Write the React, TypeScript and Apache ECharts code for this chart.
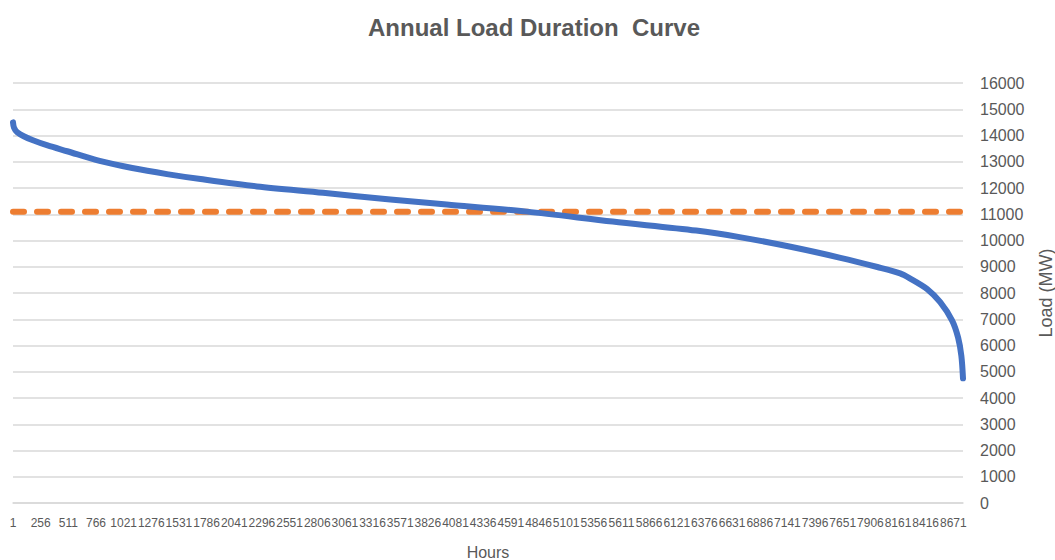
import React, { useEffect, useRef } from "react";
import * as echarts from "echarts";

const titleText = "Annual Load Duration  Curve";
const xAxisName = "Hours";
const yAxisName = "Load (MW)";

// Hour of the year (sorted by load) and load in MW
const hours = [1, 10, 40, 100, 185, 320, 500, 800, 1100, 1420, 1730, 2250, 2860, 3480, 4000, 4740, 5530, 6300, 6700, 7170, 7630, 7970, 8180, 8270, 8430, 8550, 8660, 8715, 8745, 8760];
const loads = [14500, 14300, 14120, 13970, 13820, 13620, 13400, 13030, 12760, 12530, 12340, 12060, 11820, 11560, 11370, 11100, 10720, 10380, 10130, 9760, 9340, 8990, 8750, 8560, 8150, 7650, 6950, 6300, 5600, 4750];

// Average load reference line
const averageLoad = 11100;
const firstHour = 1;
const lastHour = 8760;

const xTickLabels = ["1", "256", "511", "766", "1021", "1276", "1531", "1786", "2041", "2296", "2551", "2806", "3061", "3316", "3571", "3826", "4081", "4336", "4591", "4846", "5101", "5356", "5611", "5866", "6121", "6376", "6631", "6886", "7141", "7396", "7651", "7906", "8161", "8416", "8671"];
const xTickStep = 255;

const yMin = 0;
const yMax = 16000;
const yStep = 1000;

export default function App() {
  const ref = useRef<HTMLDivElement>(null);

  useEffect(() => {
    if (!ref.current) return;
    const chart = echarts.init(ref.current, undefined, { renderer: "svg" });
    const loadData = hours.map((h, i) => [h - 1, loads[i]]);
    const avgData = [
      [firstHour - 1, averageLoad],
      [lastHour - 1, averageLoad],
    ];
    chart.setOption({
      animation: false,
      backgroundColor: "#ffffff",
      title: {
        text: titleText,
        left: 529,
        textAlign: "center",
        top: 10,
        textStyle: {
          fontFamily: "Liberation Sans",
          fontSize: 24,
          fontWeight: "bold",
          color: "#595959",
        },
      },
      grid: { left: 13, right: 92, top: 83, bottom: 57, outerBoundsMode: "none", containLabel: false },
      xAxis: {
        type: "value",
        min: 0,
        max: lastHour - 1,
        interval: xTickStep,
        name: xAxisName,
        nameLocation: "middle",
        nameGap: 41,
        nameTextStyle: { fontFamily: "Liberation Sans", fontSize: 16, color: "#595959", verticalAlign: "top" },
        axisLine: { show: true, lineStyle: { color: "#d9d9d9", width: 1.5 } },
        axisTick: { show: false },
        splitLine: { show: false },
        axisLabel: {
          margin: 14,
          fontFamily: "Liberation Sans",
          fontSize: 12,
          color: "#595959",
          showMaxLabel: false,
          formatter: (v: number) => {
            const i = Math.round(v / xTickStep);
            return v % xTickStep === 0 && i < xTickLabels.length ? xTickLabels[i] : "";
          },
        },
      },
      yAxis: {
        type: "value",
        position: "right",
        min: yMin,
        max: yMax,
        interval: yStep,
        name: yAxisName,
        nameLocation: "middle",
        nameRotate: 90,
        nameGap: 74,
        nameTextStyle: { fontFamily: "Liberation Sans", fontSize: 18, color: "#595959" },
        axisLine: { show: false },
        axisTick: { show: false },
        splitLine: { lineStyle: { color: "#d9d9d9", width: 1.5 } },
        axisLabel: {
          margin: 17,
          align: "left",
          fontFamily: "Liberation Sans",
          fontSize: 16,
          color: "#595959",
          formatter: (v: number) => String(v),
        },
      },
      series: [
        {
          name: "Load",
          type: "line",
          data: loadData,
          showSymbol: false,
          smooth: 0.3,
          lineStyle: { color: "#4472c4", width: 6, cap: "round", join: "round" },
          z: 3,
        },
        {
          name: "Average",
          type: "line",
          data: avgData,
          showSymbol: false,
          lineStyle: { color: "#ed7d31", width: 6, type: [11, 13], cap: "round" },
          z: 2,
        },
      ],
    });
    return () => chart.dispose();
  }, []);

  return (
    <div
      ref={ref}
      style={{ position: "fixed", left: 0, top: 0, width: 1055, height: 560, background: "#fff" }}
    />
  );
}
